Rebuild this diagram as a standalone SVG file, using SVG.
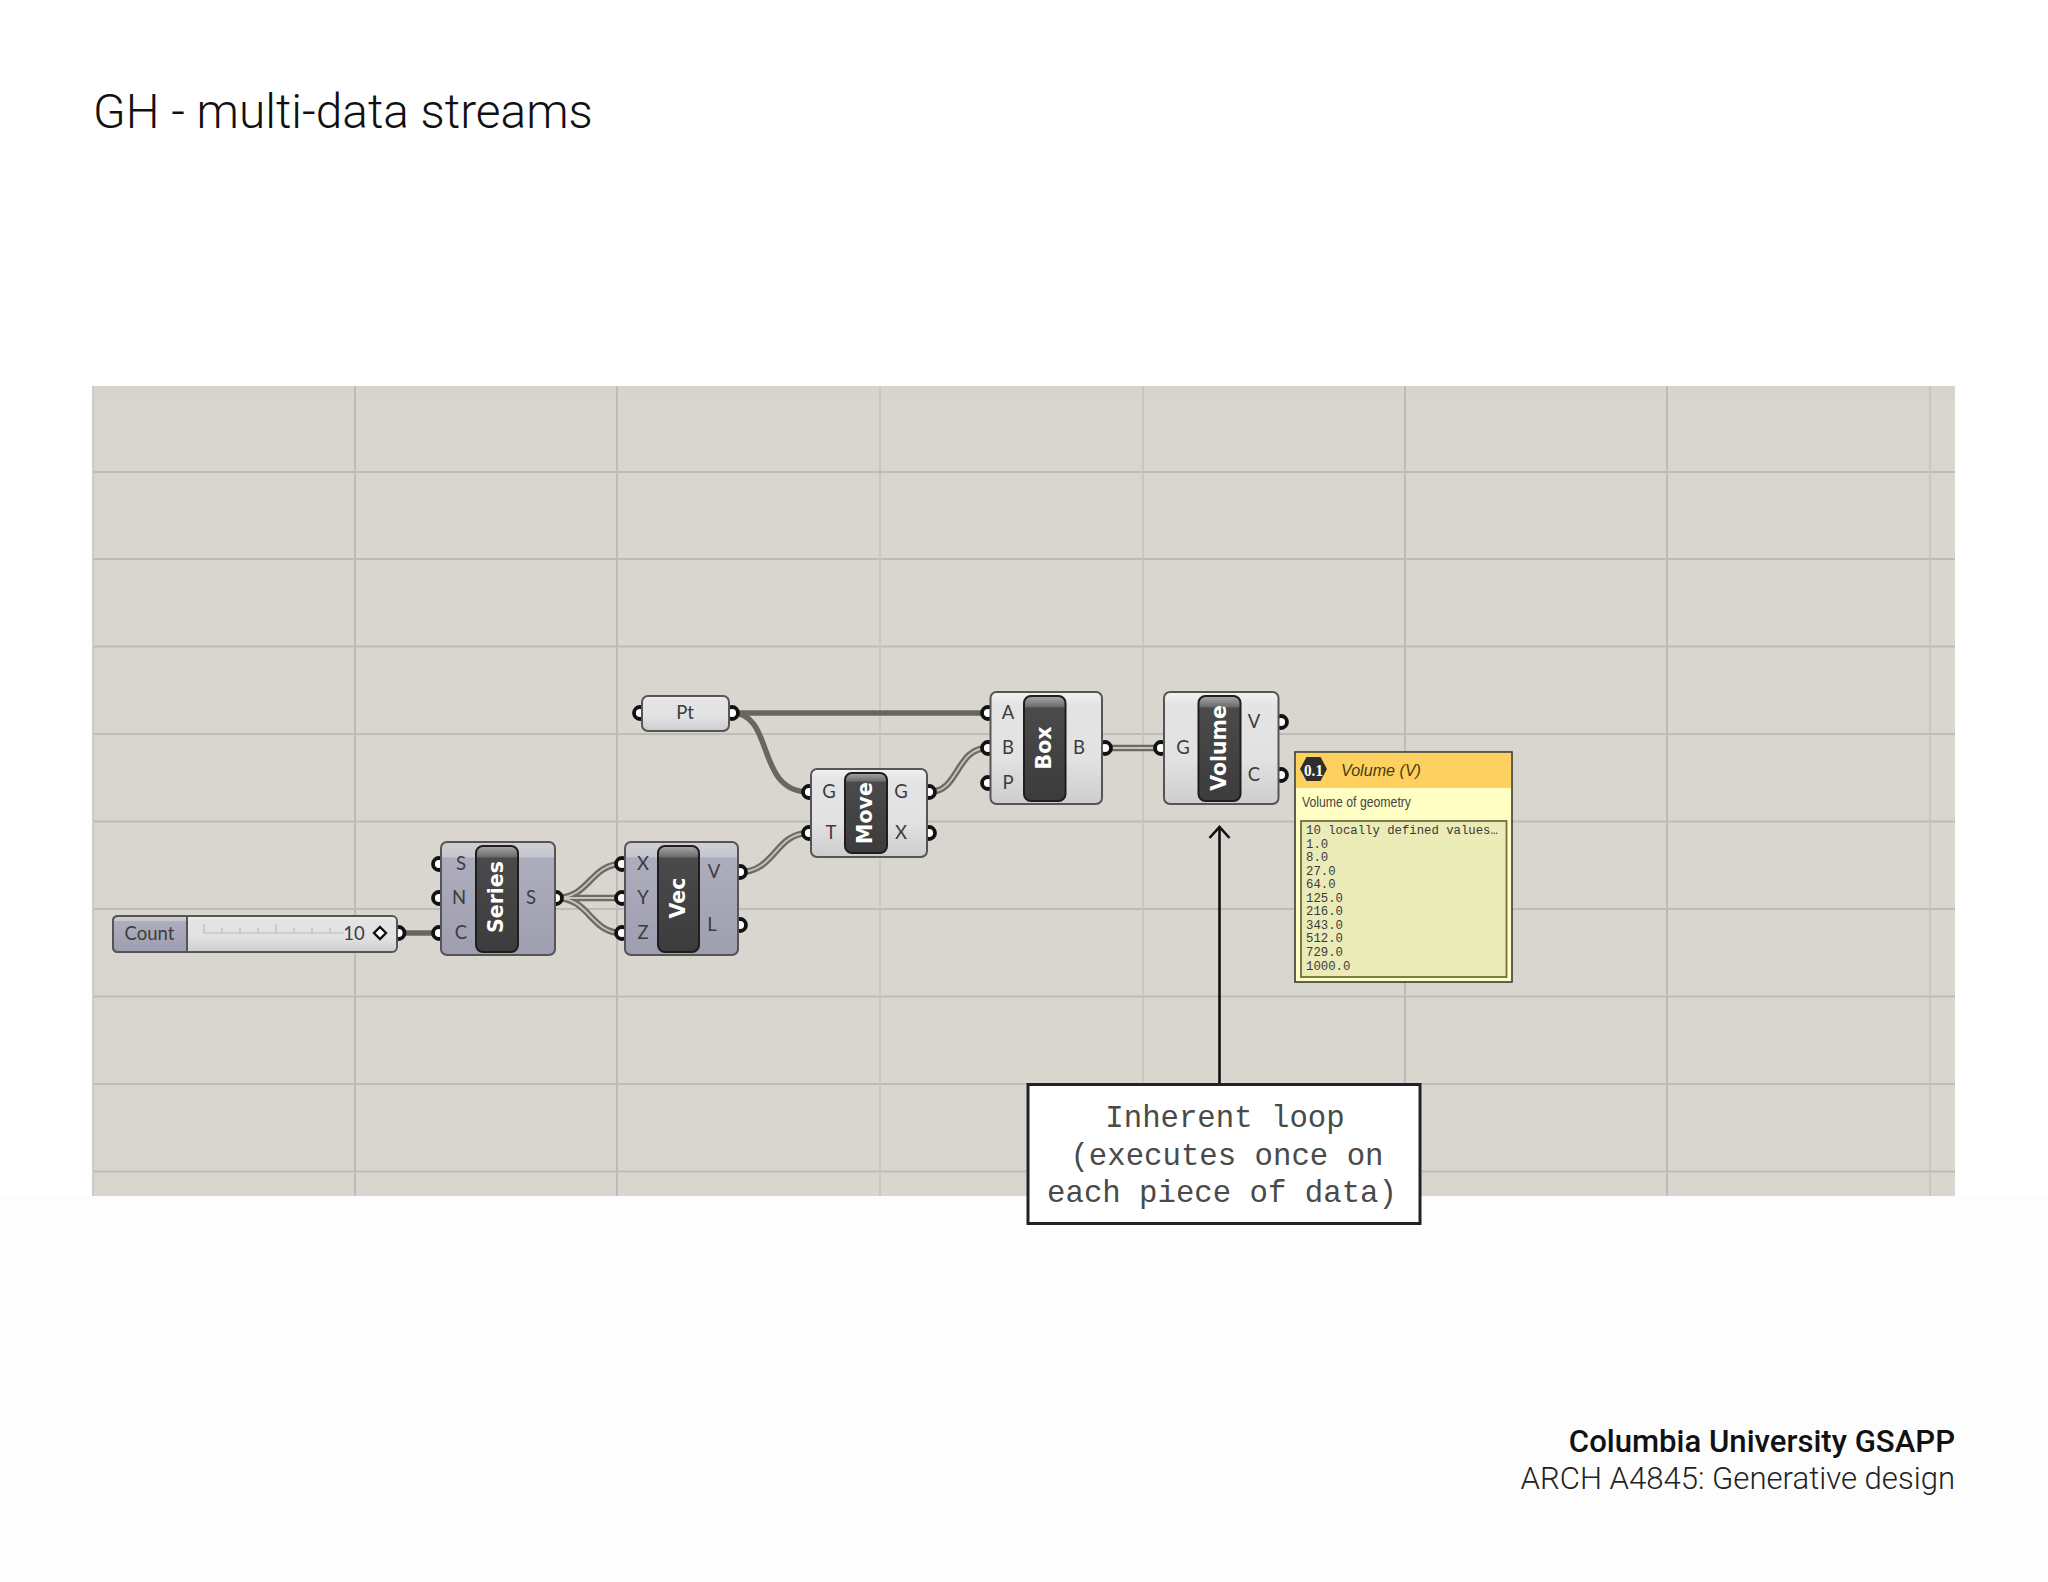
<svg xmlns="http://www.w3.org/2000/svg" width="2048" height="1582" viewBox="0 0 2048 1582">
<defs>
<linearGradient id="light" x1="0" y1="0" x2="0" y2="1"><stop offset="0" stop-color="#f2f2f2"/><stop offset="0.12" stop-color="#e4e4e4"/><stop offset="0.6" stop-color="#e2e2e2"/><stop offset="1" stop-color="#cdcdcd"/></linearGradient>
<linearGradient id="slate" x1="0" y1="0" x2="0" y2="1"><stop offset="0" stop-color="#cfcfd6"/><stop offset="0.13" stop-color="#c6c6ce"/><stop offset="0.14" stop-color="#adadbd"/><stop offset="1" stop-color="#9e9eb0"/></linearGradient>
<linearGradient id="cap" x1="0" y1="0" x2="0" y2="1"><stop offset="0" stop-color="#a8a8a8"/><stop offset="0.1" stop-color="#6e6e6e"/><stop offset="0.115" stop-color="#4a4a4a"/><stop offset="1" stop-color="#3c3c3c"/></linearGradient>
<linearGradient id="head" x1="0" y1="0" x2="0" y2="1"><stop offset="0" stop-color="#d4d4cd"/><stop offset="1" stop-color="#d9d5cf"/></linearGradient>
<marker id="open" markerUnits="userSpaceOnUse" markerWidth="24" markerHeight="16" refX="12" refY="2" orient="0" viewBox="0 0 24 16"><path d="M2,13 L12,2 L22,13" fill="none" stroke="#111" stroke-width="2.6"/></marker>
</defs>
<style>
text{font-family:"Liberation Sans",Arial,sans-serif}
.g1{stroke:#bfbbb6;stroke-width:2;fill:none}
.g2{stroke:#c5c1bc;stroke-width:1.5;fill:none}
.body{fill:url(#light);stroke:#555;stroke-width:2}
.sl{fill:url(#slate);stroke:#555;stroke-width:2}
.cap{fill:url(#cap);stroke:#1e1e1e;stroke-width:2}
.port{fill:#fff;stroke:#111;stroke-width:3.800}
.nm{font-family:"DejaVu Sans",sans-serif;font-weight:700;fill:#fff;font-size:20.500px;text-anchor:middle}
.lb{font-family:Lato,sans-serif;font-size:18.500px;fill:#3c3c3c;text-anchor:middle}
.w1{fill:none;stroke:#6a655f;stroke-width:5.500}
.w2o{fill:none;stroke:#6e6a64;stroke-width:6.500}
.w2i{fill:none;stroke:#c8c4be;stroke-width:1.800}
.mono{font-family:"Liberation Mono",monospace;font-size:12.300px;fill:#3a3a3a}
.call{font-family:"Liberation Mono",monospace;font-size:30.700px;fill:#4a4a4a;text-anchor:middle}
</style>
<rect width="2048" height="1582" fill="#fff"/>
<rect x="0" y="1196" width="2048" height="386" fill="#fdfdfd"/>
<text x="93" y="128" font-size="47.800" style="font-family:Roboto,sans-serif;font-weight:300" fill="#111">GH - multi-data streams</text>
<g id="canvas">
<rect x="93" y="386" width="1862" height="810" fill="#d9d5cf"/>
<rect x="93" y="386" width="1862" height="14" fill="url(#head)"/>
<path class="g1" d="M93,472H1955M93,559H1955M93,646.500H1955M93,734H1955M93,821.500H1955M93,909H1955M93,996.500H1955M93,1084H1955M93,1171.500H1955"/>
<path class="g1" d="M355,386V1196M617,386V1196M1405,386V1196M1667,386V1196"/>
<path class="g2" d="M93,386V1196M880,386V1196M1143,386V1196M1930,386V1196"/>
</g>
<g id="connectors">
<path class="w1" d="M398,933H439"/>
<path class="w2o" d="M556,898C590,898 590,864 622,864M556,898H622M556,898C590,898 590,933 622,933"/>
<path class="w2i" d="M556,898C590,898 590,864 622,864M556,898H622M556,898C590,898 590,933 622,933"/>
<path class="w1" d="M732,713H988M732,713C775,713 755,792 809,792"/>
<path class="w2o" d="M740,872C775,872 775,833 809,833M929,792C960,792 955,748 988,748M1105,748H1161"/>
<path class="w2i" d="M740,872C775,872 775,833 809,833M929,792C960,792 955,748 988,748M1105,748H1161"/>
<path d="M1219.500,1084V827" fill="none" stroke="#111" stroke-width="2.600" marker-end="url(#open)"/>
</g>
<g id="count">
<circle class="port" cx="398.500" cy="933" r="6"/>
<rect class="body" x="113" y="916" width="284" height="36" rx="5"/>
<path class="sl" d="M118,916H187V952H118Q113,952 113,947V921Q113,916 118,916Z"/>
<path d="M204,924V933H344M222,928V933M240,928V933M258,928V933M276,924V933M294,928V933M312,928V933M330,928V933" fill="none" stroke="#bbb" stroke-width="1.200"/>
<text class="lb" x="149.500" y="939.500">Count</text>
<text class="lb" x="354" y="939.500">10</text>
<path d="M380,927L386,933L380,939L374,933Z" fill="#fff" stroke="#111" stroke-width="2.400"/>
</g>
<g id="series">
<circle class="port" cx="439" cy="864" r="6"/><circle class="port" cx="439" cy="898" r="6"/><circle class="port" cx="439" cy="933" r="6"/><circle class="port" cx="556" cy="898" r="6"/>
<rect class="sl" x="441" y="842" width="114" height="113" rx="6"/>
<rect class="cap" x="476" y="846" width="42" height="106" rx="7"/>
<text class="nm" transform="translate(503,897) rotate(-90)">Series</text>
<text class="lb" x="461" y="870">S</text><text class="lb" x="459" y="904">N</text><text class="lb" x="461" y="939">C</text><text class="lb" x="531" y="904">S</text>
</g>
<g id="vec">
<circle class="port" cx="622" cy="864" r="6"/><circle class="port" cx="622" cy="898" r="6"/><circle class="port" cx="622" cy="933" r="6"/><circle class="port" cx="740" cy="872" r="6"/><circle class="port" cx="740" cy="925" r="6"/>
<rect class="sl" x="625" y="842" width="113" height="113" rx="6"/>
<rect class="cap" x="658" y="846" width="41" height="106" rx="7"/>
<text class="nm" transform="translate(685,898) rotate(-90)">Vec</text>
<text class="lb" x="643" y="870">X</text><text class="lb" x="643" y="904">Y</text><text class="lb" x="643" y="939">Z</text><text class="lb" x="714" y="878">V</text><text class="lb" x="712" y="931">L</text>
</g>
<g id="pt">
<circle class="port" cx="640" cy="713" r="6"/><circle class="port" cx="732" cy="713" r="6"/>
<rect class="body" x="642" y="696" width="87" height="35" rx="6"/>
<text class="lb" x="685" y="719">Pt</text>
</g>
<g id="move">
<circle class="port" cx="809" cy="792" r="6"/><circle class="port" cx="809" cy="833" r="6"/><circle class="port" cx="929" cy="792" r="6"/><circle class="port" cx="929" cy="833" r="6"/>
<rect class="body" x="811" y="769" width="116" height="88" rx="6"/>
<rect class="cap" x="845" y="773" width="42" height="80" rx="7"/>
<text class="nm" transform="translate(872,813) rotate(-90)">Move</text>
<text class="lb" x="829" y="798">G</text><text class="lb" x="831" y="839">T</text><text class="lb" x="901" y="798">G</text><text class="lb" x="901" y="839">X</text>
</g>
<g id="box">
<circle class="port" cx="988" cy="713" r="6"/><circle class="port" cx="988" cy="748" r="6"/><circle class="port" cx="988" cy="783" r="6"/><circle class="port" cx="1105" cy="748" r="6"/>
<rect class="body" x="990.500" y="692" width="111.500" height="112" rx="6"/>
<rect class="cap" x="1024" y="696" width="41.500" height="105" rx="7"/>
<text class="nm" transform="translate(1051,748) rotate(-90)">Box</text>
<text class="lb" x="1008" y="719">A</text><text class="lb" x="1008" y="754">B</text><text class="lb" x="1008" y="789">P</text><text class="lb" x="1079" y="754">B</text>
</g>
<g id="volume">
<circle class="port" cx="1161" cy="748" r="6"/><circle class="port" cx="1281" cy="722" r="6"/><circle class="port" cx="1281" cy="775" r="6"/>
<rect class="body" x="1164" y="692" width="114.500" height="112" rx="6"/>
<rect class="cap" x="1198.500" y="696" width="42" height="105" rx="7"/>
<text class="nm" transform="translate(1226,748) rotate(-90)">Volume</text>
<text class="lb" x="1183" y="754">G</text><text class="lb" x="1254" y="728">V</text><text class="lb" x="1254" y="781">C</text>
</g>
<g id="tooltip">
<rect x="1295" y="752" width="217" height="230" fill="#ffffc4" stroke="#3a3a30" stroke-width="1.600"/>
<rect x="1296" y="753" width="215" height="35" fill="#fdd05f"/>
<path d="M1300,769L1306.500,757L1320.500,757L1327,769L1320.500,781L1306.500,781Z" fill="#2e2e2e"/>
<text x="1313.500" y="775.500" font-size="17" fill="#fff" text-anchor="middle" textLength="19" lengthAdjust="spacingAndGlyphs" style="font-family:'Liberation Serif',serif;font-weight:700">0.1</text>
<text x="1341" y="776" font-size="17" font-style="italic" fill="#4a3c10" textLength="80" lengthAdjust="spacingAndGlyphs">Volume (V)</text>
<text x="1302" y="807" font-size="14.500" fill="#444" textLength="109" lengthAdjust="spacingAndGlyphs">Volume of geometry</text>
<rect x="1301" y="821" width="205.500" height="156" fill="#ebebb8" stroke="#6f6f40" stroke-width="1.800"/>
<text class="mono" x="1306" y="834">10 locally defined values…</text>
<text class="mono" x="1306" y="848">1.0</text>
<text class="mono" x="1306" y="861">8.0</text>
<text class="mono" x="1306" y="875">27.0</text>
<text class="mono" x="1306" y="888">64.0</text>
<text class="mono" x="1306" y="902">125.0</text>
<text class="mono" x="1306" y="915">216.0</text>
<text class="mono" x="1306" y="929">343.0</text>
<text class="mono" x="1306" y="942">512.0</text>
<text class="mono" x="1306" y="956">729.0</text>
<text class="mono" x="1306" y="970">1000.0</text>
</g>
<g id="callout">
<rect x="1028" y="1084.500" width="392" height="139" fill="#fff" stroke="#222" stroke-width="3"/>
<text class="call" x="1225" y="1127">Inherent loop</text>
<text class="call" x="1227" y="1165">(executes once on</text>
<text class="call" x="1222" y="1202">each piece of data)</text>
</g>
<text x="1955" y="1452" font-size="31.100" text-anchor="end" style="font-family:Roboto,sans-serif;font-weight:500" fill="#111">Columbia University GSAPP</text>
<text x="1955" y="1489" font-size="31.100" text-anchor="end" style="font-family:Roboto,sans-serif;font-weight:300" fill="#222">ARCH A4845: Generative design</text>
</svg>
